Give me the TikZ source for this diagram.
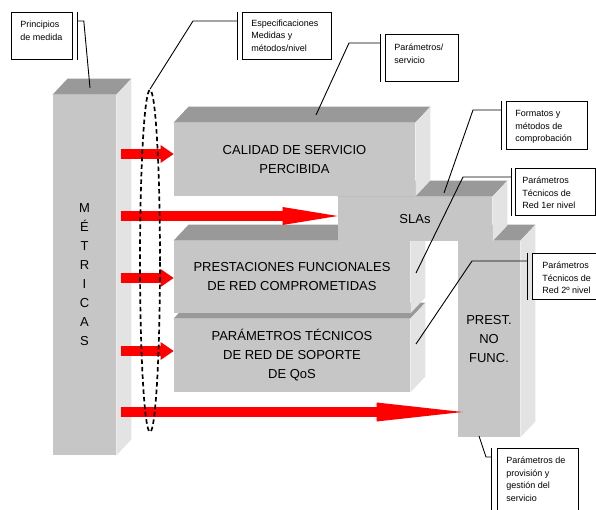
\documentclass[tikz,border=0pt]{standalone}
\usepackage{fontspec}
\setmainfont{Liberation Sans}
\usetikzlibrary{arrows.meta,shapes.geometric}
\definecolor{slabfront}{HTML}{C6C6C6}
\definecolor{slabtop}{HTML}{999999}
\definecolor{slabside}{HTML}{E3E3E3}
\tikzset{every picture/.style={line width=0.8pt}}
\tikzset{
  slab/.style={fill=slabfront, inner sep=0pt, align=center, font=\fontsize{13}{19}\selectfont},
  metarrow/.style={draw=red, line width=9.5pt},
  lazo/.style={draw, ellipse, dash pattern=on 4.5pt off 3pt, line width=1.7pt, inner sep=0pt, minimum width=20pt, minimum height=342pt},
  notebox/.style={draw, fill=white, inner sep=0pt, anchor=north west},
  notetext/.style={inner sep=0pt, anchor=north west, align=left, font=\fontsize{9}{12.5}\selectfont},
  leader/.style={draw, line width=0.9pt}
}
\newcommand{\slabfaces}[1]{%
  \fill[slabtop] (#1.north west) -- ++(15,-16) -- ([shift={(15,-16)}]#1.north east) -- (#1.north east) -- cycle;
  \fill[slabside] (#1.north east) -- ++(15,-16) -- ([shift={(15,-16)}]#1.south east) -- (#1.south east) -- cycle;}
\begin{document}
\begin{tikzpicture}[x=1pt,y=-1pt]
\useasboundingbox (0,0) rectangle (596,510);
\clip (0,0) rectangle (596,510);
% blocks, back to front
\node[slab, minimum width=63pt, minimum height=360pt] (metricas) at (84.5,275) {M\\É\\T\\R\\I\\C\\A\\S};
\slabfaces{metricas}
\node[slab, minimum width=236pt, minimum height=73pt] (parametros) at (292,355.5) {PARÁMETROS TÉCNICOS\\DE RED DE SOPORTE\\DE QoS};
\slabfaces{parametros}
\node[slab, minimum width=236pt, minimum height=72pt] (prestaciones) at (292,277) {PRESTACIONES FUNCIONALES\\DE RED COMPROMETIDAS};
\slabfaces{prestaciones}
\node[slab, minimum width=62pt, minimum height=196pt] (prest) at (489,339) {PREST.\\NO\\FUNC.};
\slabfaces{prest}
\node[slab, minimum width=154pt, minimum height=44pt] (sla) at (415,219) {SLAs};
\slabfaces{sla}
\node[slab, minimum width=241pt, minimum height=73pt] (calidad) at (294.5,159.5) {CALIDAD DE SERVICIO\\PERCIBIDA};
\slabfaces{calidad}
% arrows
\coordinate (m1) at (121,154);
\coordinate (m2) at (121,216);
\coordinate (m3) at (121,278);
\coordinate (m4) at (121,351);
\coordinate (m5) at (121,412);
\draw[metarrow, -{Triangle[length=13pt,width=18pt,line width=0pt]}] (m1) -- (calidad.west |- m1);
\draw[metarrow, -{Triangle[length=55pt,width=18pt,line width=0pt]}] (m2) -- (sla.west |- m2);
\draw[metarrow, -{Triangle[length=13pt,width=18pt,line width=0pt]}] (m3) -- (prestaciones.west |- m3);
\draw[metarrow, -{Triangle[length=13pt,width=18pt,line width=0pt]}] (m4) -- (parametros.west |- m4);
\draw[metarrow, -{Triangle[length=86pt,width=19pt,line width=0pt]}] (m5) -- ([xshift=5pt]prest.west |- m5);
\node[lazo] (lazo) at (150,261) {};
% targets of the notes
\coordinate (t-metricas) at (90,88);
\coordinate (t-calidad) at (316,115);
\coordinate (t-sla) at (444,193);
\coordinate (t-prestaciones) at (416,273);
\coordinate (t-parametros) at (416,344);
\coordinate (t-prest) at (479,436);
% notes
\node[notebox, minimum width=61pt, minimum height=47pt] (principios) at (11,12) {};
\node[notetext] (principios-t) at ([shift={(9,6.75)}]principios.north west) {\strut Principios\\de medida};
\draw ([xshift=5pt]principios.north east) -- ([xshift=5pt]principios.south east);
\draw[leader] ([shift={(5,9)}]principios.north east) -- ++(6,0) -- (t-metricas);

\node[notebox, minimum width=89pt, minimum height=47pt] (especif) at (242,12) {};
\node[notetext] (especif-t) at ([shift={(9,5)}]especif.north west) {\strut Especificaciones\\Medidas y\\métodos/nivel};
\draw ([xshift=-5pt]especif.north west) -- ([xshift=-5pt]especif.south west);
\draw[leader] ([shift={(-5,9)}]especif.north west) -- ++(-44,0) -- (lazo.north);

\node[notebox, minimum width=73pt, minimum height=47pt] (servicio) at (385,34) {};
\node[notetext] (servicio-t) at ([shift={(9,7.5)}]servicio.north west) {\strut Parámetros/\\servicio};
\draw ([xshift=-5pt]servicio.north west) -- ([xshift=-5pt]servicio.south west);
\draw[leader] ([shift={(-5,9)}]servicio.north west) -- ++(-31,0) -- (t-calidad);

\node[notebox, minimum width=81pt, minimum height=48pt] (formatos) at (506,101) {};
\node[notetext] (formatos-t) at ([shift={(9,6.75)}]formatos.north west) {\strut Formatos y\\métodos de\\comprobación};
\draw ([xshift=-5pt]formatos.north west) -- ([xshift=-5pt]formatos.south west);
\draw[leader] ([shift={(-5,9)}]formatos.north west) -- ++(-28,0) -- (t-sla);

\node[notebox, minimum width=80pt, minimum height=47pt] (redprimero) at (515,168) {};
\node[notetext] (redprimero-t) at ([shift={(7,6.75)}]redprimero.north west) {\strut Parámetros\\Técnicos de\\Red 1er nivel};
\draw ([xshift=-4pt]redprimero.north west) -- ([xshift=-4pt]redprimero.south west);
\draw[leader] ([shift={(-4,9)}]redprimero.north west) -- ++(-48,0) -- (t-prestaciones);

\node[notebox, minimum width=70pt, minimum height=46pt] (redsegundo) at (532,253) {};
\node[notetext] (redsegundo-t) at ([shift={(10,6.75)}]redsegundo.north west) {\strut Parámetros\\Técnicos de\\Red 2º nivel};
\draw ([xshift=-5pt]redsegundo.north west) -- ([xshift=-5pt]redsegundo.south west);
\draw[leader] ([shift={(-5,8)}]redsegundo.north west) -- ++(-55,0) -- (t-parametros);

\node[notebox, minimum width=81pt, minimum height=70pt] (provision) at (497,448) {};
\node[notetext] (provision-t) at ([shift={(9,6.75)}]provision.north west) {\strut Parámetros de\\provisión y\\gestión del\\servicio};
\draw ([xshift=-6pt]provision.north west) -- ([xshift=-6pt]provision.south west);
\draw[leader] ([shift={(-6,9)}]provision.north west) -- ++(-5,0) -- (t-prest);
\end{tikzpicture}
\end{document}
